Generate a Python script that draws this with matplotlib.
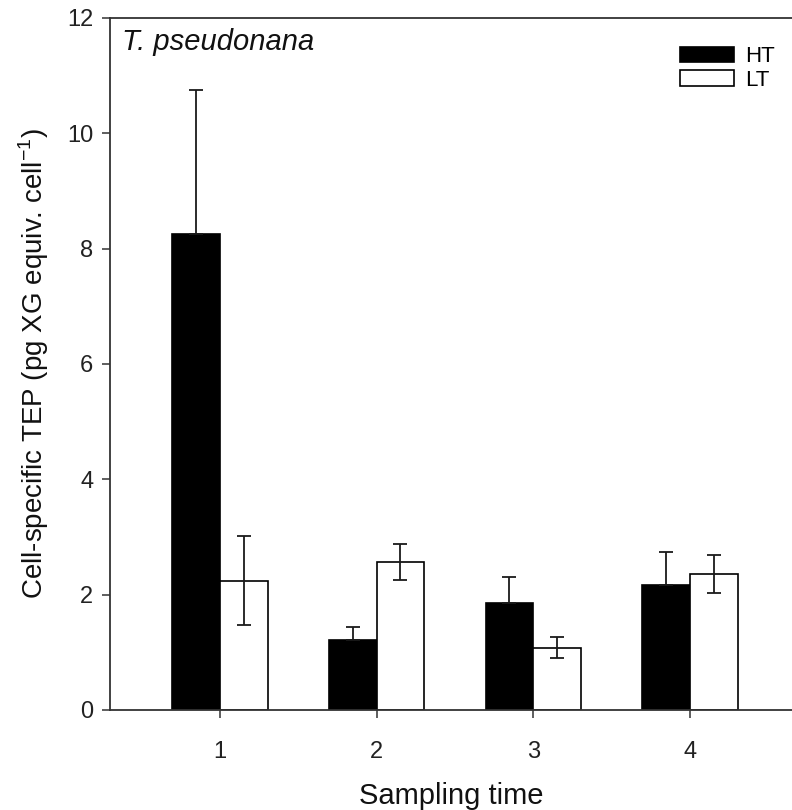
import numpy as np
import matplotlib
matplotlib.use("Agg")
import matplotlib.pyplot as plt

plt.rcParams['font.family'] = ['Liberation Sans', 'DejaVu Sans']

# cell-specific TEP, mean and error per sampling time
times = [1, 2, 3, 4]
ht_mean = [8.25, 1.21, 1.86, 2.16]
ht_err = [2.50, 0.22, 0.45, 0.58]
lt_mean = [2.24, 2.56, 1.08, 2.36]
lt_err = [0.77, 0.31, 0.18, 0.33]

fig = plt.figure(figsize=(7.92, 8.10), dpi=100)
ax = fig.add_axes([0.139, 0.1235, 0.861, 0.8545])

x = np.array(times)
w = 0.305
ax.bar(x - w / 2, ht_mean, w, color='black', edgecolor='black', linewidth=1.2,
       label='HT', zorder=2)
ax.bar(x + w / 2, lt_mean, w, color='white', edgecolor='black', linewidth=1.2,
       label='LT', zorder=2)

ekw = dict(fmt='none', ecolor='#1a1a1a', elinewidth=1.3, capsize=5, capthick=1.3, zorder=3)
ax.errorbar(x - w / 2, ht_mean, yerr=[np.zeros(len(ht_err)), ht_err], **ekw)
ax.errorbar(x + w / 2, lt_mean, yerr=lt_err, **ekw)

ax.set_xlim(0.3, 4.65)
ax.set_ylim(0, 12)
ax.set_xticks(times)
ax.set_yticks([0, 2, 4, 6, 8, 10, 12])

for s in ['left', 'bottom', 'top']:
    ax.spines[s].set_color('#333333')
    ax.spines[s].set_linewidth(1.3)
ax.spines['right'].set_visible(False)

ax.tick_params(axis='y', direction='out', length=6, width=1.1, color='#333333',
               labelsize=17, pad=6, labelcolor='#222222')
ax.tick_params(axis='x', direction='out', length=6, width=1.1, color='#333333',
               labelsize=17, pad=16, labelcolor='#222222')

ax.set_xlabel('Sampling time', fontsize=21, labelpad=14, color='#111111')
ax.set_ylabel(r'Cell-specific TEP (pg XG equiv. cell$^{\mathregular{-1}}$)',
              fontsize=20, labelpad=12, color='#111111')

ax.text(0.018, 0.985, 'T. pseudonana', transform=ax.transAxes, fontsize=21,
        style='italic', va='top', ha='left', color='#111111')

leg = ax.legend(loc='upper right', bbox_to_anchor=(0.994, 0.978), frameon=False,
                fontsize=16, handlelength=2.4, handleheight=0.7,
                handletextpad=0.5, labelspacing=0.1, borderaxespad=0.2)

fig.savefig('out.png', dpi=100)
